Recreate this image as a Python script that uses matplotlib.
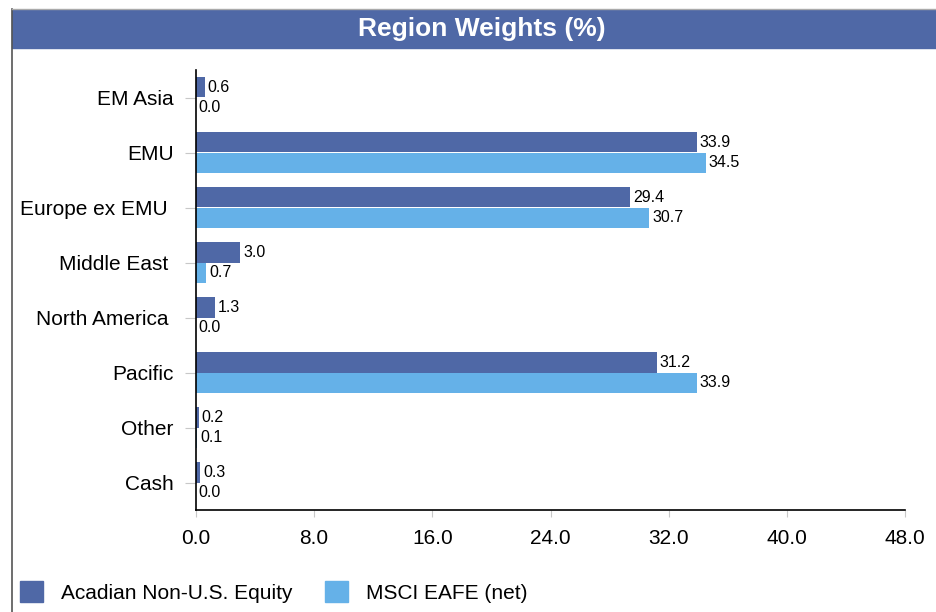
import matplotlib.pyplot as plt
from matplotlib.patches import Rectangle, Patch
from matplotlib.lines import Line2D
import numpy as np

plt.rcParams['font.family'] = ['Liberation Sans', 'DejaVu Sans']

regions = ['EM Asia', 'EMU', 'Europe ex EMU ', 'Middle East ', 'North America ',
           'Pacific', 'Other', 'Cash']
acadian = [0.6, 33.9, 29.4, 3.0, 1.3, 31.2, 0.2, 0.3]
eafe = [0.0, 34.5, 30.7, 0.7, 0.0, 33.9, 0.1, 0.0]
xticks = [0, 8, 16, 24, 32, 40, 48]
series_names = ['Acadian Non-U.S. Equity', 'MSCI EAFE (net)']

dark = '#4f68a6'
light = '#65b1e8'

W, H = 936, 612
fig = plt.figure(figsize=(W / 100, H / 100), dpi=100)
ax = fig.add_axes([196 / W, 1 - 510 / H, 709 / W, 440 / H])

y = np.arange(len(regions))
h = 0.37
b1 = ax.barh(y - h / 2, acadian, height=h, color=dark)
b2 = ax.barh(y + h / 2, eafe, height=h, color=light)
ax.bar_label(b1, labels=[f'{v:.1f}' for v in acadian], padding=2, fontsize=11.5)
ax.bar_label(b2, labels=[f'{v:.1f}' for v in eafe], padding=2, fontsize=11.5)

ax.set_ylim(len(regions) - 0.5, -0.5)
ax.set_xlim(0, 48)
ax.set_yticks(y, regions)
ax.set_xticks(xticks, [f'{v:.1f}' for v in xticks])
ax.tick_params(axis='y', length=8, color='#c8c8c8', pad=8, labelsize=15)
ax.tick_params(axis='x', length=5, color='#c8c8c8', pad=9, labelsize=15)
for s in ['top', 'right']:
    ax.spines[s].set_visible(False)
for s in ['left', 'bottom']:
    ax.spines[s].set_color('black')
    ax.spines[s].set_linewidth(1.2)

# title bar and frame
fig.add_artist(Rectangle((12 / W, 1 - 48 / H), (W - 12) / W, 38 / H,
                         transform=fig.transFigure, color=dark))
fig.text(482 / W, 1 - 29 / H, 'Region Weights (%)', ha='center', va='center',
         color='white', fontsize=19, fontweight='bold')
fig.add_artist(Line2D([12 / W, 12 / W], [0, 1 - 9 / H], transform=fig.transFigure,
                      color='#555555', lw=1.2))
fig.add_artist(Line2D([12 / W, 1], [1 - 9 / H, 1 - 9 / H], transform=fig.transFigure,
                      color='#aaaaaa', lw=1))

handles = [Patch(color=dark, label=series_names[0]),
           Patch(color=light, label=series_names[1])]
fig.legend(handles=handles, loc='center left', bbox_to_anchor=(20 / W, 1 - 592 / H),
           ncol=2, frameon=False, fontsize=15, borderpad=0, borderaxespad=0,
           handlelength=1.1, handleheight=1.15, handletextpad=0.85, columnspacing=1.6)

fig.savefig('out.png', dpi=100)
